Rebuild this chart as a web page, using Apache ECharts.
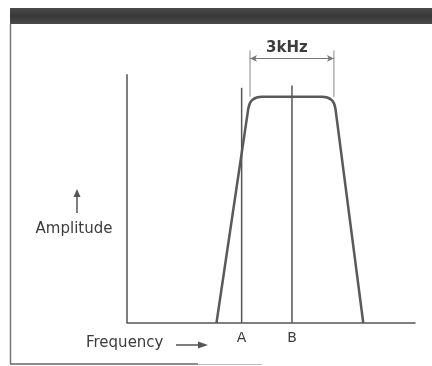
<!DOCTYPE html>
<html>
<head>
<meta charset="utf-8">
<script src="https://cdn.jsdelivr.net/npm/echarts@6/dist/echarts.min.js"></script>
<style>
  html, body { margin: 0; padding: 0; background: #ffffff; }
  #chart { width: 432px; height: 366px; }
</style>
</head>
<body>
<div id="chart"></div>
<script>
// Band-pass response: frequency in kHz, relative amplitude
const passband = [[3.2, 0], [4.4, 1.0], [7.4, 1.0], [8.45, 0]];
const markerA = [[4.1, 0], [4.1, 1.04]];
const markerB = [[5.9, 0], [5.9, 1.05]];
const bandwidthEdges = [4.4, 7.4];
const bandwidthLabel = '3kHz';
const tickValues = [4.1, 5.9];
const tickNames = ['A', 'B'];
const yAxisLine = [[0, 0], [0, 1.1]];

const ink = '#555555';
const textInk = '#3c3c3c';
const font = 'DejaVu Sans';

const chart = echarts.init(document.getElementById('chart'), null, { renderer: 'canvas' });

// rounded corner helper for the passband outline
function roundedPath(pts, r) {
  let d = 'M' + pts[0][0] + ' ' + pts[0][1];
  for (let i = 1; i < pts.length - 1; i++) {
    const p = pts[i], a = pts[i - 1], b = pts[i + 1];
    const la = Math.hypot(a[0] - p[0], a[1] - p[1]);
    const lb = Math.hypot(b[0] - p[0], b[1] - p[1]);
    const s = [p[0] + (a[0] - p[0]) * r / la, p[1] + (a[1] - p[1]) * r / la];
    const e = [p[0] + (b[0] - p[0]) * r / lb, p[1] + (b[1] - p[1]) * r / lb];
    d += ' L' + s[0] + ' ' + s[1] + ' Q' + p[0] + ' ' + p[1] + ' ' + e[0] + ' ' + e[1];
  }
  const last = pts[pts.length - 1];
  d += ' L' + last[0] + ' ' + last[1];
  return d;
}

const thinLine = (data, color, width) => ({
  type: 'line', data: data, symbol: 'none', silent: true, clip: false,
  lineStyle: { color: color, width: width }, animation: false
});

chart.setOption({
  animation: false,
  backgroundColor: '#ffffff',
  grid: { left: 127, right: 17, top: 29, bottom: 43 },
  xAxis: {
    type: 'value', min: 0, max: 10.3,
    splitLine: { show: false },
    axisTick: { show: false },
    axisLine: { lineStyle: { color: ink, width: 1.5 } },
    axisLabel: {
      customValues: tickValues,
      formatter: v => tickNames[tickValues.indexOf(v)] || '',
      color: textInk, fontFamily: font, fontSize: 14, margin: 8
    }
  },
  yAxis: {
    type: 'value', min: 0, max: 1.3,
    show: false
  },
  graphic: [
    // frame
    { type: 'rect', shape: { x: 10, y: 8, width: 422, height: 16 },
      style: { fill: new echarts.graphic.LinearGradient(0, 0, 0, 1, [
        { offset: 0, color: '#4a4a4a' }, { offset: 0.5, color: '#383838' }, { offset: 1, color: '#4a4a4a' }]) }, silent: true },
    { type: 'line', shape: { x1: 10.5, y1: 24, x2: 10.5, y2: 364 }, style: { stroke: '#777', lineWidth: 1.5 }, silent: true },
    { type: 'line', shape: { x1: 10, y1: 364, x2: 198, y2: 364 }, style: { stroke: '#666', lineWidth: 1.5 }, silent: true },
    { type: 'line', shape: { x1: 198, y1: 364.5, x2: 262, y2: 364.5 }, style: { stroke: '#bbb', lineWidth: 1 }, silent: true },
    // amplitude caption with upward arrow
    { type: 'line', shape: { x1: 77, y1: 213, x2: 77, y2: 196 }, style: { stroke: ink, lineWidth: 1.5 }, silent: true },
    { type: 'polygon', shape: { points: [[73.5, 197], [80.5, 197], [77, 189]] }, style: { fill: ink }, silent: true },
    { type: 'text', x: 74, y: 229, style: { text: 'Amplitude', fill: textInk, font: '15px "' + font + '"', align: 'center', verticalAlign: 'middle' }, silent: true },
    // frequency caption with rightward arrow
    { type: 'text', x: 86, y: 343, style: { text: 'Frequency', fill: textInk, font: '15px "' + font + '"', align: 'left', verticalAlign: 'middle' }, silent: true },
    { type: 'line', shape: { x1: 176, y1: 345, x2: 200, y2: 345 }, style: { stroke: ink, lineWidth: 1.5 }, silent: true },
    { type: 'polygon', shape: { points: [[198, 341.5], [198, 348.5], [208, 345]] }, style: { fill: ink }, silent: true }
  ],
  series: [
    thinLine(yAxisLine, ink, 1.5),
    {
      type: 'custom', silent: true, clip: false,
      data: passband,
      renderItem: function (params, api) {
        if (params.dataIndex !== 0) return;
        const pts = passband.map(p => api.coord(p));
        return {
          type: 'path',
          shape: { pathData: roundedPath(pts, 12) },
          style: { fill: 'none', stroke: '#5a5a5a', lineWidth: 2.5, lineJoin: 'round' }
        };
      }
    },
    thinLine(markerA, ink, 1.5),
    thinLine(markerB, ink, 1.5),
    thinLine([[bandwidthEdges[0], 1.0], [bandwidthEdges[0], 1.205]], '#888', 1),
    thinLine([[bandwidthEdges[1], 1.0], [bandwidthEdges[1], 1.205]], '#888', 1),
    {
      type: 'line', data: [], silent: true,
      markLine: {
        silent: true, animation: false,
        symbol: ['arrow', 'arrow'], symbolSize: [5, 7],
        lineStyle: { color: '#777', width: 1, type: 'solid' },
        label: {
          show: true, position: 'middle', formatter: bandwidthLabel,
          color: textInk, fontFamily: font, fontSize: 15, fontWeight: 'bold', distance: 3,
          offset: [-5, 0]
        },
        data: [[
          { coord: [bandwidthEdges[0], 1.17] },
          { coord: [bandwidthEdges[1], 1.17] }
        ]]
      }
    }
  ]
});
</script>
</body>
</html>
